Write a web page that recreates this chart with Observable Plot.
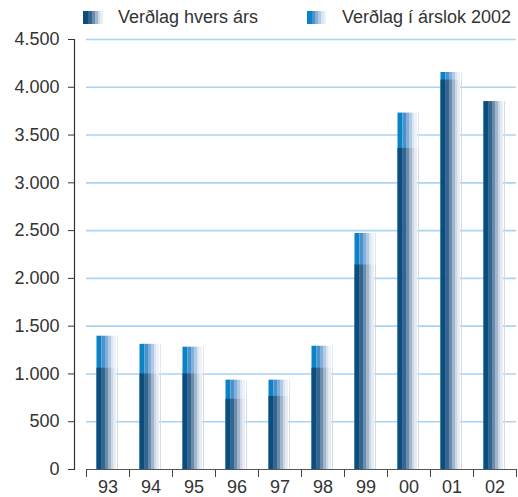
<!DOCTYPE html>
<html>
<head>
<meta charset="utf-8">
<script src="https://cdn.jsdelivr.net/npm/d3@7"></script>
<script src="https://cdn.jsdelivr.net/npm/@observablehq/plot@0.6"></script>
<style>
  html, body { margin: 0; padding: 0; background: #fff; }
  body { width: 518px; height: 497px; overflow: hidden; font-family: "Liberation Sans", Arial, sans-serif; }
  #legend { position: relative; height: 30px; font-size: 18px; color: #333; }
  .item { position: absolute; top: 5px; display: flex; align-items: center; height: 24px; }
  .sw { width: 22px; height: 13px; margin-right: 13px; }
  svg { display: block; overflow: visible; }
</style>
</head>
<body>
<div id="legend"></div>
<div id="chart"></div>
<script>
const years = ["93", "94", "95", "96", "97", "98", "99", "00", "01", "02"];
const hversArs = [1060, 1000, 1000, 735, 765, 1060, 2140, 3360, 4075, 3850];
const arslok2002 = [1395, 1310, 1280, 935, 935, 1290, 2470, 3730, 4155, 3850];
const seriesNames = ["Verðlag hvers árs", "Verðlag í árslok 2002"];
const yTicks = [0, 500, 1000, 1500, 2000, 2500, 3000, 3500, 4000, 4500];

// stripe styling (shading of each bar)
const darkStrips = ["#0d4d7c", "#34658e", "#6a8dac", "#a1b6cc", "#cdd8e4", "#e8edf3", "#d3dce6"];
const lightStrips = ["#0b82c6", "#4893cd", "#84afd8", "#b3cae5", "#dbe6f2", "#eef3f9", "#e0e8f1"];
const stripEdges = [[0, 5], [5, 8.5], [8.5, 11.5], [11.5, 14.5], [14.5, 17], [17, 19.5], [20.5, 21.5]];
const band = 43, barInset = 10.5;

const fmt = d => d3.format(",")(d).replace(/,/g, ".");

const back = years.map((y, i) => ({year: y, value: arslok2002[i]}));
const front = years.map((y, i) => ({year: y, value: hversArs[i]}));

function stripMarks(data, colors) {
  return stripEdges.map(([a, b], k) => Plot.barY(data, {
    x: "year", y: "value", fill: colors[k],
    insetLeft: barInset + a, insetRight: band - barInset - b
  }));
}

// legend
function grad(colors) {
  const w = [0, 5, 8.5, 11.5, 14.5, 17, 19.5, 22];
  const stops = [];
  for (let k = 0; k < 6; k++) stops.push(`${colors[k]} ${w[k]}px ${w[k+1]}px`);
  stops.push(`#fff 19.5px 22px`);
  return `linear-gradient(to right, ${stops.join(",")})`;
}
const legend = document.getElementById("legend");
[[83, darkStrips, seriesNames[0]], [307, lightStrips, seriesNames[1]]].forEach(([x, c, t]) => {
  const it = document.createElement("div");
  it.className = "item";
  it.style.left = x + "px";
  it.innerHTML = `<span class="sw" style="background:${grad(c)}"></span><span>${t}</span>`;
  legend.appendChild(it);
});

const chart = Plot.plot({
  width: 518,
  height: 467,
  marginTop: 9,
  marginBottom: 28,
  marginLeft: 86,
  marginRight: 2,
  style: {fontFamily: "'Liberation Sans', Arial, sans-serif", fontSize: "18px", color: "#333", background: "#fff"},
  x: {domain: years, padding: 0},
  y: {domain: [0, 4500]},
  marks: [
    Plot.gridY(yTicks.filter(d => d > 0), {stroke: "#a9d5f2", strokeOpacity: 1, strokeWidth: 1.6}),
    ...stripMarks(back, lightStrips),
    ...stripMarks(front, darkStrips),
    Plot.ruleY([0], {stroke: "#555", strokeWidth: 1.2}),
    Plot.frame({anchor: "left", dx: -12, stroke: "#333", strokeWidth: 1.2}),
    Plot.axisY({ticks: yTicks, tickFormat: fmt, dx: -12, tickSize: 6, tickPadding: 9, label: null, stroke: "#333", fill: "#333"}),
    Plot.axisX({tickSize: 0, tickPadding: 11, label: null, fill: "#333"}),
    Plot.axisX({tickSize: 8, tickFormat: () => "", dx: -band / 2, label: null, stroke: "#444"}),
    Plot.axisX({ticks: [years[years.length - 1]], tickSize: 8, tickFormat: () => "", dx: band / 2, label: null, stroke: "#444"})
  ]
});
document.getElementById("chart").appendChild(chart);
</script>
</body>
</html>
